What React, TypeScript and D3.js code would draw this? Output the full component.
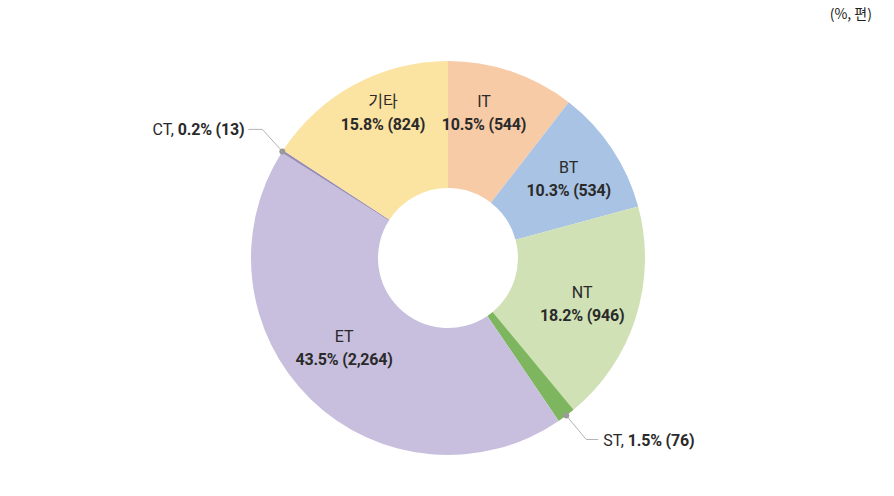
import React from "react";
import * as d3 from "d3";

const categories = ["IT", "BT", "NT", "ST", "ET", "CT", "기타"];
const percents = [10.5, 10.3, 18.2, 1.5, 43.5, 0.2, 15.8];
const counts = ["544", "534", "946", "76", "2,264", "13", "824"];
const colors = ["#f8cba7", "#a8c3e4", "#d0e1b5", "#7db65e", "#c7bfdd", "#978cb4", "#fbe3a1"];
const unitLabel = "(%, 편)";

const W = 894, H = 496;
const cx = 448, cy = 258, outerR = 197, innerR = 70;

// label nudges (style)
const nudges: Record<string, [number, number]> = {
  IT: [-11, -9], BT: [0, 0], NT: [-4, 1], ET: [-3, -15], "기타": [4, -18],
};

export default function App() {
  const data = categories.map((c, i) => ({ c, v: percents[i], n: counts[i], color: colors[i] }));
  const pie = d3.pie<any>().value((d) => d.v).sort(null);
  const arcs = pie(data);
  const arc = d3.arc<any>().innerRadius(innerR).outerRadius(outerR);
  const labelArc = d3.arc<any>().innerRadius(145).outerRadius(145);
  const font = "Roboto, 'Noto Sans CJK KR', sans-serif";

  const outer = (a: any) => {
    const m = (a.startAngle + a.endAngle) / 2;
    return [Math.sin(m) * outerR, -Math.cos(m) * outerR];
  };

  return (
    <svg width={W} height={H} style={{ position: "absolute", left: 0, top: 0, background: "#fff" }}>
      <text x={872} y={19} textAnchor="end" fontSize={14} fontFamily="'Noto Sans CJK KR', sans-serif" fill="#222">{unitLabel}</text>
      <g transform={`translate(${cx},${cy})`}>
        {arcs.map((a) => (
          <path key={a.data.c} d={arc(a) as string} fill={a.data.color} />
        ))}
        {arcs.map((a) => {
          const c = a.data.c;
          if (c === "CT" || c === "ST") return null;
          const [x, y] = labelArc.centroid(a);
          const [nx, ny] = nudges[c] || [0, 0];
          return (
            <g key={"l" + c} transform={`translate(${x + nx},${y + ny})`} fontFamily={font} textAnchor="middle" fill="#2a2a2a">
              <text y={-5} fontSize={16}>{c}</text>
              <text y={18} fontSize={16} fontWeight={700} letterSpacing={-0.2}>{`${a.data.v.toFixed(1)}% (${a.data.n})`}</text>
            </g>
          );
        })}
        {arcs.filter((a) => a.data.c === "CT" || a.data.c === "ST").map((a) => {
          const [px, py] = outer(a);
          const isCT = a.data.c === "CT";
          const ex = isCT ? px - 20 : px + 20;
          const ey = isCT ? py - 22 : py + 24;
          const hx = isCT ? ex - 14 : ex + 12;
          const tx = isCT ? hx - 4 : hx + 5;
          return (
            <g key={"o" + a.data.c}>
              <polyline points={`${px},${py} ${ex},${ey} ${hx},${ey}`} fill="none" stroke="#b3b3b3" strokeWidth={1} />
              <circle cx={px} cy={py} r={3} fill="#9a9a9a" />
              <text x={tx} y={ey + 6} fontSize={16} fontFamily={font} textAnchor={isCT ? "end" : "start"} fill="#2a2a2a">
                <tspan>{a.data.c}, </tspan>
                <tspan fontWeight={700} letterSpacing={-0.2}>{`${a.data.v.toFixed(1)}% (${a.data.n})`}</tspan>
              </text>
            </g>
          );
        })}
      </g>
    </svg>
  );
}
